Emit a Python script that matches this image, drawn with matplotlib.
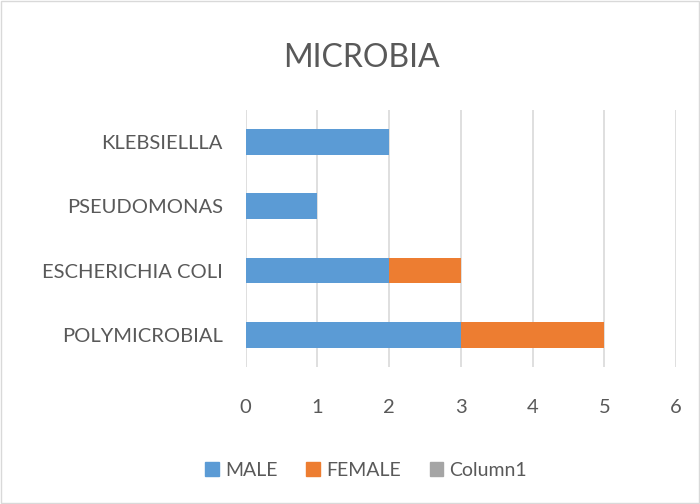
import numpy as np
import matplotlib
matplotlib.use('Agg')
from matplotlib import pyplot as plt
from matplotlib.patches import Rectangle, Patch

categories = ['POLYMICROBIAL', 'ESCHERICHIA COLI', 'PSEUDOMONAS', 'KLEBSIELLLA']
male = [3, 2, 1, 2]
female = [2, 1, 0, 0]
column1 = [0, 0, 0, 0]

blue = '#5b9bd5'
orange = '#ed7d31'
gray = '#a5a5a5'
txt = '#595959'

plt.rcParams['font.family'] = ['Lato', 'DejaVu Sans']

fig = plt.figure(figsize=(7, 5.04), dpi=100)
ax = fig.add_axes([0.351, 0.272, 0.6147, 0.51])

y = np.arange(len(categories))
ax.barh(y, male, height=0.4, color=blue, label='MALE', zorder=3)
ax.barh(y, female, height=0.4, left=male, color=orange, label='FEMALE', zorder=3)
ax.barh(y, column1, height=0.4, left=np.add(male, female), color=gray, label='Column1', zorder=3)

ax.set_xlim(0, 6)
ax.set_ylim(-0.5, len(categories) - 0.5)
ax.set_xticks(range(7))
ax.set_yticks(y)
ax.set_yticklabels(categories)
ax.grid(axis='x', color='#d9d9d9', linewidth=1.2, zorder=0)
for s in ax.spines.values():
    s.set_visible(False)
ax.tick_params(length=0, labelsize=14.5, colors=txt)
ax.tick_params(axis='y', pad=16.5)
ax.tick_params(axis='x', pad=23)

fig.text(0.517, 0.885, 'MICROBIA', ha='center', va='center', fontsize=23, color=txt)

handles = [Patch(color=blue), Patch(color=orange), Patch(color=gray)]
fig.legend(handles, ['MALE', 'FEMALE', 'Column1'], loc='center', bbox_to_anchor=(0.523, 0.067),
           ncol=3, frameon=False, fontsize=14, labelcolor=txt, handlelength=0.7, handleheight=0.7,
           handletextpad=0.3, columnspacing=1.5)

fig.patches.append(Rectangle((0.002, 0.002), 0.996, 0.996, transform=fig.transFigure,
                             fill=False, edgecolor='#d9d9d9', linewidth=1))

plt.savefig('out.png', dpi=100)
